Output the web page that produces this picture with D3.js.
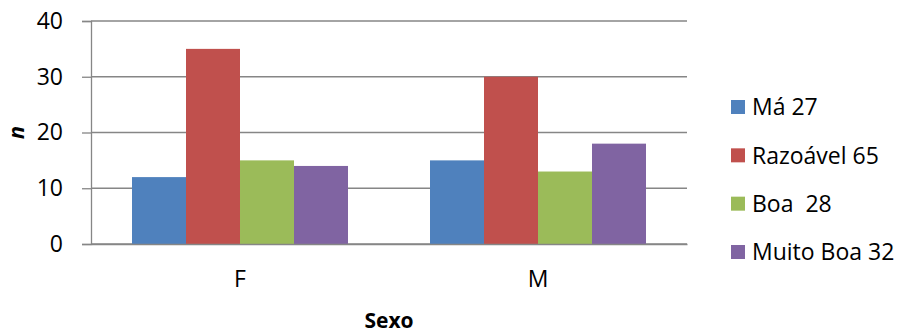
<!DOCTYPE html>
<html>
<head>
<meta charset="utf-8">
<script src="https://cdn.jsdelivr.net/npm/d3@7"></script>
<style>
  html, body { margin: 0; padding: 0; background: #fff; }
  svg { display: block; font-family: "Open Sans", "Noto Sans", sans-serif; }
</style>
</head>
<body>
<svg id="chart" width="901" height="333"></svg>
<script>
// Counts per sex and self-rated category
const categories = ["F", "M"];
const seriesNames = ["Má 27", "Razoável 65", "Boa  28", "Muito Boa 32"];
const seriesColors = ["#4F81BD", "#C0504D", "#9BBB59", "#8064A2"];
const valuesMa = [12, 15];
const valuesRazoavel = [35, 30];
const valuesBoa = [15, 13];
const valuesMuitoBoa = [14, 18];
const yTicks = [0, 10, 20, 30, 40];

const seriesValues = [valuesMa, valuesRazoavel, valuesBoa, valuesMuitoBoa];

const svg = d3.select("#chart");
const plot = { left: 91, right: 687, top: 21, bottom: 244 };
const labelSize = 23;

const x = d3.scaleBand().domain(categories).range([plot.left, plot.right]).paddingInner(0).paddingOuter(0);
const groupInner = x.bandwidth() * (216 / 298);
const xs = d3.scaleBand().domain(d3.range(seriesNames.length)).range([0, groupInner]).padding(0);
const y = d3.scaleLinear().domain([0, 40]).range([plot.bottom, plot.top]);

// Horizontal gridlines
svg.append("g")
  .selectAll("line")
  .data(yTicks)
  .join("line")
  .attr("x1", plot.left).attr("x2", plot.right)
  .attr("y1", d => y(d)).attr("y2", d => y(d))
  .attr("stroke", "#868686").attr("stroke-width", 1.3);

// Bars
const groups = svg.append("g")
  .selectAll("g")
  .data(categories)
  .join("g")
  .attr("transform", c => `translate(${x(c) + (x.bandwidth() - groupInner) / 2},0)`);

groups.selectAll("rect")
  .data((c, ci) => seriesValues.map((vals, si) => ({ si, v: vals[ci] })))
  .join("rect")
  .attr("x", d => xs(d.si))
  .attr("width", xs.bandwidth())
  .attr("y", d => y(d.v))
  .attr("height", d => y(0) - y(d.v))
  .attr("fill", d => seriesColors[d.si]);

// Y axis
const yAxis = d3.axisLeft(y).tickValues(yTicks).tickSize(9).tickPadding(19).tickFormat(d3.format("d"));
const yg = svg.append("g").attr("transform", `translate(${plot.left},0)`).call(yAxis);
yg.select(".domain").attr("stroke", "#868686").attr("stroke-width", 1.3);
yg.selectAll(".tick line").attr("stroke", "#868686").attr("stroke-width", 1.3);
yg.selectAll(".tick text").attr("font-size", labelSize).attr("fill", "#000").attr("font-family", "Open Sans, sans-serif");

// X axis baseline and category labels
const xAxis = d3.axisBottom(x).tickSize(0).tickPadding(27);
const xg = svg.append("g").attr("transform", `translate(0,${plot.bottom})`).call(xAxis);
xg.select(".domain").attr("stroke", "#868686").attr("stroke-width", 1.3);
xg.selectAll(".tick text").attr("font-size", labelSize).attr("fill", "#000").attr("font-family", "Open Sans, sans-serif");

// Axis titles
svg.append("text")
  .attr("x", (plot.left + plot.right) / 2).attr("y", 328)
  .attr("text-anchor", "middle")
  .attr("font-size", 21).attr("font-weight", "bold")
  .text("Sexo");

svg.append("text")
  .attr("transform", `translate(24,${y(20)}) rotate(-90)`)
  .attr("text-anchor", "middle")
  .attr("font-size", 22).attr("font-weight", "bold").attr("font-style", "italic")
  .text("n");

// Legend
const legend = svg.append("g").attr("transform", "translate(731,0)");
const rowY = d3.scalePoint().domain(d3.range(seriesNames.length)).range([107, 252]);
const items = legend.selectAll("g")
  .data(seriesNames)
  .join("g")
  .attr("transform", (d, i) => `translate(0,${rowY(i)})`);
items.append("rect")
  .attr("x", 0).attr("y", -7).attr("width", 14).attr("height", 14)
  .attr("fill", (d, i) => seriesColors[i]);
items.append("text")
  .attr("x", 21).attr("y", 0).attr("dy", "0.36em")
  .attr("font-size", labelSize)
  .attr("xml:space", "preserve")
  .style("white-space", "pre")
  .text(d => d);
</script>
</body>
</html>
